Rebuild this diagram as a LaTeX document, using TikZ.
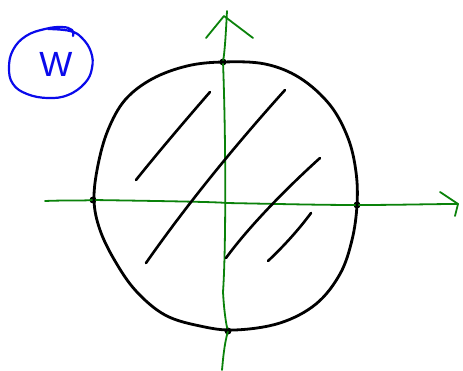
\documentclass[tikz,border=0pt]{standalone}
\usepackage{fontspec}
\setmainfont{Liberation Sans}
\definecolor{axisgreen}{RGB}{10,130,10}
\definecolor{penblue}{RGB}{10,10,235}
\begin{document}
\begin{tikzpicture}[x=1pt,y=-1pt,
  axis/.style={axisgreen,line width=1.8pt,line cap=round,line join=round},
  ink/.style={black,line width=2.8pt,line cap=round,line join=round},
  hatch/.style={black,line width=2.6pt,line cap=round},
  pendot/.style={circle,fill=black,inner sep=0pt,minimum size=7pt},
  bluepen/.style={penblue,line width=2.2pt,line cap=round}]
\useasboundingbox (0,0) rectangle (463,371);
\fill[white] (0,0) rectangle (463,371);
% blue circled W
\node[penblue,font=\fontsize{35}{35}\selectfont,inner sep=0pt] (w) at (56,64) {W};
\draw[bluepen] plot[smooth,tension=0.7] coordinates {(48,29) (70,31) (82,38) (91,52) (92,68) (85,83) (68,95) (48,98) (27,94) (13,84) (9,68) (13,50) (26,36) (45,29) (62,27) (72,30) (73,36)};
% axes
\coordinate (xl) at (45,201);
\coordinate (xr) at (458,204);
\coordinate (yt) at (227,11);
\coordinate (yb) at (222,370);
\node[pendot] (top) at (223,62) {};
\node[pendot] (left) at (93,200) {};
\node[pendot] (right) at (357,205) {};
\node[pendot] (bot) at (228,331) {};
\draw[axis] (xl) .. controls (70,200) and (80,201) .. (left.center)
  .. controls (160,201) and (220,202) .. (226,203)
  .. controls (280,204) and (320,205) .. (right.center)
  .. controls (400,205) and (430,204) .. (xr);
\draw[axis] (yt) .. controls (226,30) and (225,50) .. (top.center)
  .. controls (226,140) and (226,250) .. (223,292)
  .. controls (224,310) and (226,325) .. (bot.center)
  .. controls (224,345) and (223,360) .. (yb);
\coordinate (xa1) at (440,192);
\coordinate (xa2) at (455,216);
\coordinate (ya1) at (206,38);
\coordinate (ya2) at (253,38);
\coordinate (yapex) at (224,16);
\draw[axis] (xa1) -- (xr) -- (xa2);
\draw[axis] (ya1) -- (yapex) -- (ya2);
% circle
\draw[ink] plot[smooth cycle,tension=0.6] coordinates {(223,62) (265,64) (300,78) (330,105) (348,138) (356,172) (357,205) (352,240) (340,274) (316,304) (280,323) (235,330) (200,326) (165,315) (136,291) (115,261) (100,230) (94,200) (98,165) (108,130) (125,100) (152,79) (187,66)};
% hatching
\coordinate (h1a) at (136,180); \coordinate (h1b) at (210,92);
\coordinate (h2a) at (146,263); \coordinate (h2b) at (285,90);
\coordinate (h3a) at (226,258); \coordinate (h3b) at (320,158);
\coordinate (h4a) at (268,261); \coordinate (h4b) at (311,213);
\draw[hatch] (h1a) .. controls (160,150) and (190,115) .. (h1b);
\draw[hatch] (h2a) .. controls (190,200) and (240,140) .. (h2b);
\draw[hatch] (h3a) .. controls (250,225) and (290,185) .. (h3b);
\draw[hatch] (h4a) .. controls (285,245) and (300,228) .. (h4b);
\end{tikzpicture}
\end{document}
